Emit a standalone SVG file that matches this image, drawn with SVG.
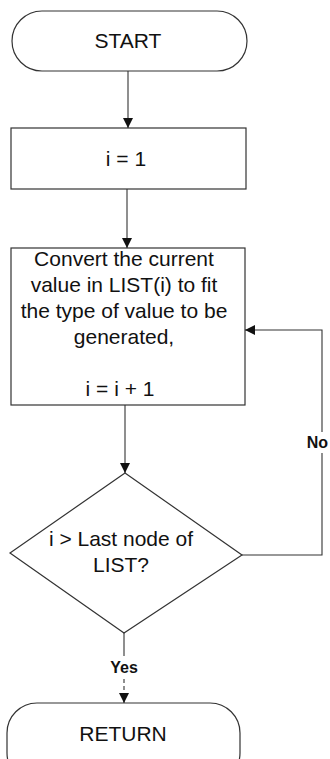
<svg xmlns="http://www.w3.org/2000/svg" width="330" height="759" viewBox="0 0 330 759">
<style>
.shape{fill:#fff;stroke:#333;stroke-width:1.2}
.t{font-family:"Liberation Sans",Arial,sans-serif;font-size:21px;fill:#111;text-anchor:middle}
.lbl{font-family:"Liberation Sans",Arial,sans-serif;font-size:16px;font-weight:bold;fill:#111;text-anchor:middle}
.c{fill:none;stroke:#333;stroke-width:1.1}
</style>
<defs>
<marker id="ah" viewBox="0 0 10 10" refX="10" refY="5" markerWidth="10" markerHeight="10" markerUnits="userSpaceOnUse" orient="auto">
<path d="M0,0 L10,5 L0,10 Z" fill="#111"/>
</marker>
</defs>
<rect width="330" height="759" fill="#fff"/>
<g id="start">
<rect class="shape" x="12" y="11" width="235" height="60" rx="30" ry="30"/>
<text class="t" x="128" y="48">START</text>
</g>
<g id="init">
<rect class="shape" x="11" y="128" width="235" height="61"/>
<text class="t" x="126" y="166">i = 1</text>
</g>
<g id="convert">
<rect class="shape" x="11" y="248" width="234" height="157"/>
<text class="t" x="124" y="266">Convert the current</text>
<text class="t" x="124" y="292">value in LIST(i) to fit</text>
<text class="t" x="124" y="318">the type of value to be</text>
<text class="t" x="124" y="344">generated,</text>
<text class="t" x="120" y="396">i = i + 1</text>
</g>
<g id="decision">
<polygon class="shape" points="125,473 242,555 124,633 10,553"/>
<text class="t" x="121" y="546">i &gt; Last node of</text>
<text class="t" x="121" y="572">LIST?</text>
</g>
<g id="return">
<rect class="shape" x="7" y="703" width="233" height="80" rx="30" ry="30"/>
<text class="t" x="123" y="741">RETURN</text>
</g>
<g id="connectors">
<line class="c" x1="128" y1="71" x2="128" y2="128" marker-end="url(#ah)"/>
<line class="c" x1="127" y1="189" x2="127" y2="248" marker-end="url(#ah)"/>
<line class="c" x1="125" y1="405" x2="125" y2="473" marker-end="url(#ah)"/>
<polyline class="c" points="242,555 322,555 322,453"/>
<polyline class="c" points="322,432 322,330 245,330" marker-end="url(#ah)"/>
<text class="lbl" x="328" y="448" style="text-anchor:end">No</text>
<line class="c" x1="124" y1="633" x2="124" y2="656"/>
<text class="lbl" x="124" y="673">Yes</text>
<line class="c" x1="124" y1="679" x2="124" y2="703" stroke-dasharray="4,3" marker-end="url(#ah)"/>
</g>
</svg>
